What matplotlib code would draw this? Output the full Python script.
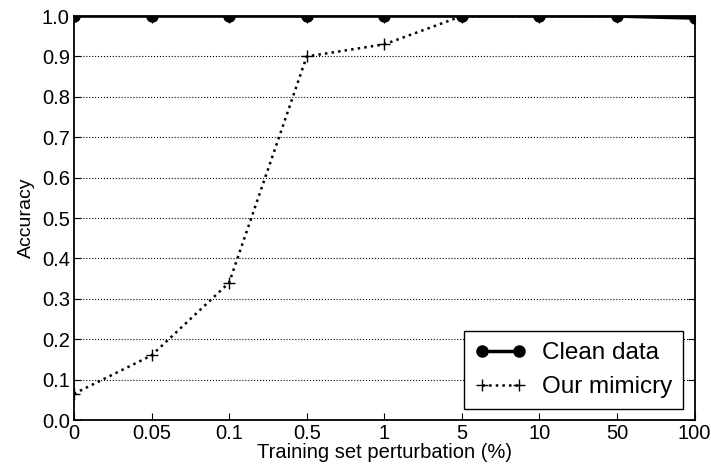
import matplotlib
matplotlib.use('Agg')
import matplotlib.pyplot as plt
import numpy as np

plt.rcParams['font.family'] = ['Liberation Sans', 'DejaVu Sans']

# data
perturbation = ['0', '0.05', '0.1', '0.5', '1', '5', '10', '50', '100']
clean_acc = [1.0, 1.0, 1.0, 1.0, 1.0, 1.0, 1.0, 1.0, 0.995]
mimicry_acc = [0.065, 0.16, 0.34, 0.90, 0.93, 1.0, 1.0, 1.0, 1.0]

x = np.arange(len(perturbation))

fig, ax = plt.subplots(figsize=(7.11, 4.73), dpi=100)
fig.subplots_adjust(left=0.104, right=0.977, top=0.966, bottom=0.112)

ax.plot(x, mimicry_acc, color='black', linestyle=':', linewidth=1.8, marker='+',
        markersize=8, markeredgewidth=1, label='Our mimicry', zorder=3)
ax.plot(x, clean_acc, color='black', linestyle='-', linewidth=2.5, marker='o',
        markersize=8, label='Clean data', zorder=4)

ax.set_xlim(0, len(perturbation) - 1)
ax.set_ylim(0, 1.0)
ax.set_xticks(x)
ax.set_xticklabels(perturbation)
ax.set_yticks(np.arange(0, 1.01, 0.1))
ax.set_yticklabels(['%.1f' % v for v in np.arange(0, 1.01, 0.1)])
ax.tick_params(direction='in', top=True, right=True, labelsize=14.5, length=5, pad=3)
ax.yaxis.grid(True, linestyle=':', color='black', linewidth=0.8)
for s in ax.spines.values():
    s.set_linewidth(1.3)

ax.set_xlabel('Training set perturbation (%)', fontsize=14.5, labelpad=0)
ax.set_ylabel('Accuracy', fontsize=14, labelpad=5)

handles, labels = ax.get_legend_handles_labels()
leg = ax.legend(handles[::-1], labels[::-1], loc='lower right', fontsize=17.5,
                fancybox=False, edgecolor='black', framealpha=1, numpoints=2,
                handlelength=2.1, handletextpad=0.65, borderpad=0.45,
                labelspacing=0.5, borderaxespad=0, bbox_to_anchor=(0.981, 0.027))
leg.get_frame().set_linewidth(1.0)

plt.savefig('out.png', dpi=100)
